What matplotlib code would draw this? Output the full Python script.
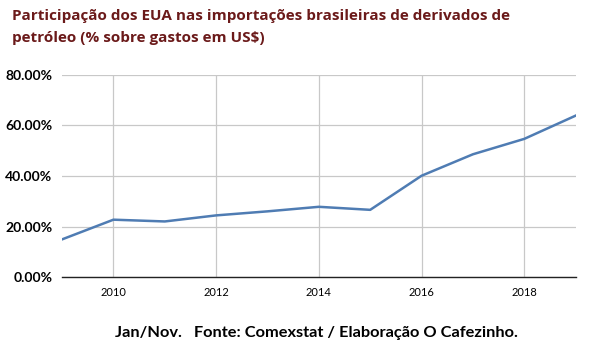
import matplotlib.pyplot as plt
from matplotlib.ticker import FuncFormatter, MultipleLocator

anos = [2009, 2010, 2011, 2012, 2013, 2014, 2015, 2016, 2017, 2018, 2019]
participacao = [14.9, 22.7, 22.0, 24.4, 26.0, 27.8, 26.6, 40.1, 48.6, 54.7, 63.9]

titulo = "Participação dos EUA nas importações brasileiras de derivados de\npetróleo (% sobre gastos em US$)"
rodape = "Jan/Nov.   Fonte: Comexstat / Elaboração O Cafezinho."

plt.rcParams['font.family'] = ['Lato', 'DejaVu Sans']

fig = plt.figure(figsize=(5.91, 3.47), dpi=100)
ax = fig.add_axes([0.105, 0.2017, 0.869, 0.5822])

ax.plot(anos, participacao, color='#4f7cb3', linewidth=1.8)

ax.set_xlim(2009, 2019)
ax.set_ylim(0, 80)
ax.xaxis.set_major_locator(MultipleLocator(2))
ax.yaxis.set_major_locator(MultipleLocator(20))
ax.yaxis.set_major_formatter(FuncFormatter(lambda v, p: f"{v:.2f}%"))
ax.grid(color='#c8c8c8', linewidth=0.9)
ax.set_axisbelow(True)

for s in ['top', 'right', 'left']:
    ax.spines[s].set_visible(False)
ax.spines['bottom'].set_color('#222222')
ax.spines['bottom'].set_linewidth(1.0)
ax.tick_params(length=0, pad=7)
ax.tick_params(axis='x', labelsize=8)
ax.tick_params(axis='y', labelsize=10)
for lbl in ax.get_yticklabels():
    lbl.set_fontweight('bold')

fig.text(0.02, 0.975, titulo, color='#6b1a1a', fontsize=11.0, fontweight='bold',
         family=['Open Sans', 'DejaVu Sans'], va='top', ha='left', linespacing=1.75)
fig.text(0.195, 0.04, rodape, color='black', fontsize=11.8, fontweight='bold',
         va='center', ha='left')

fig.savefig('out.png', dpi=100)
